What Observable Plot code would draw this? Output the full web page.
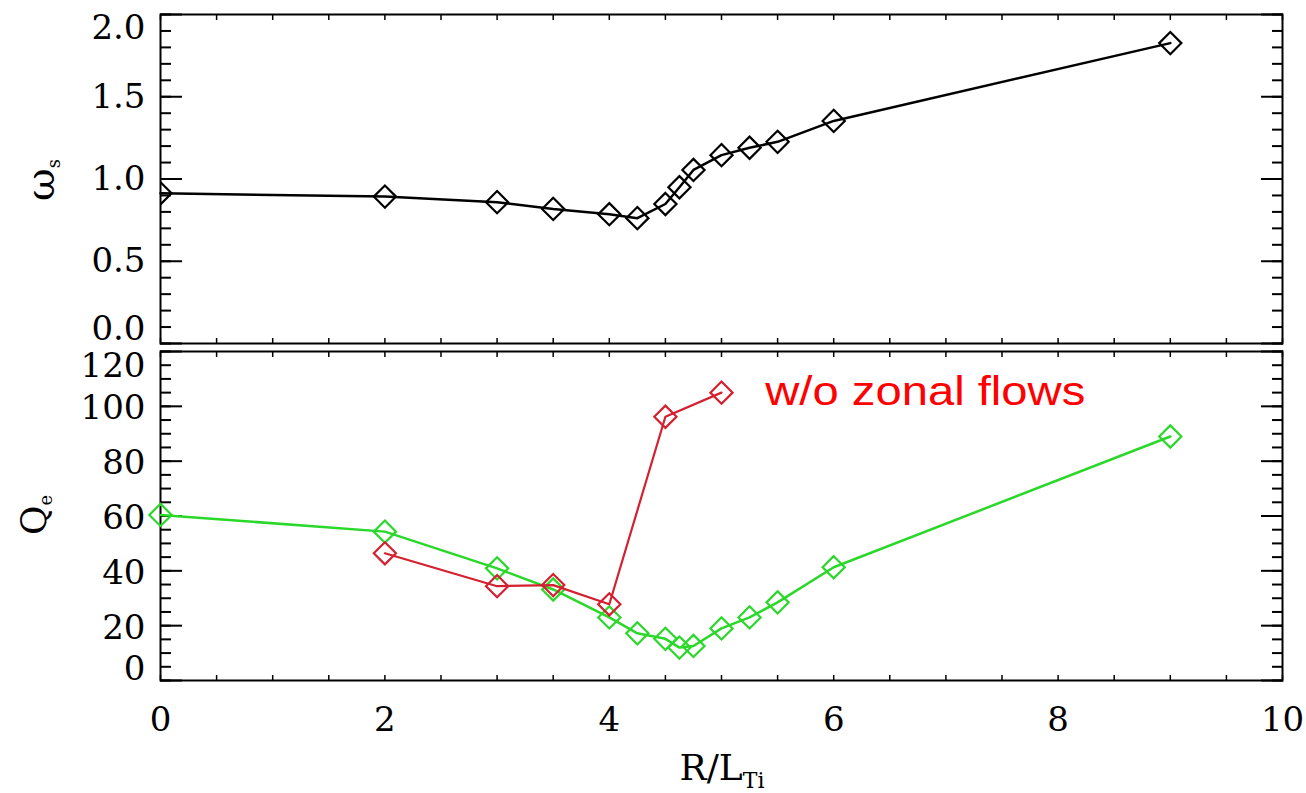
<!DOCTYPE html>
<html><head><meta charset="utf-8">
<script src="https://cdn.jsdelivr.net/npm/d3@7"></script>
<script src="https://cdn.jsdelivr.net/npm/@observablehq/plot@0.6"></script>
<style>
body{margin:0;background:#fff;}
#wrap{position:relative;width:1306px;height:793px;background:#fff;}
#wrap svg{position:absolute;left:0;overflow:visible;}
</style></head><body><div id="wrap"></div>
<script>
// ---- data ----
const rlti = [0, 2, 3, 3.5, 4, 4.25, 4.5, 4.625, 4.75, 5, 5.25, 5.5, 6, 9];
const omegaS = [0.913, 0.893, 0.859, 0.818, 0.786, 0.762, 0.848, 0.95, 1.055, 1.145, 1.19, 1.226, 1.353, 1.826];
const qeWithZF = [60.4, 54.3, 40.9, 33.2, 23, 17.2, 15.2, 12, 12.6, 19, 23, 28.5, 41.3, 89];
const rltiNoZF = [2, 3, 3.5, 4, 4.5, 5];
const qeNoZF = [46.4, 34.4, 34.8, 27.8, 96.2, 105];
const annotation = {text: "w/o zonal flows", x: 5.39, y: 100.5};

const xTicksMajor = [0, 2, 4, 6, 8, 10];
const xTicksMinor = d3.range(0, 10.001, 0.5);
const omegaTicksMajor = [0, 0.5, 1, 1.5, 2];
const omegaTicksMinor = d3.range(0, 2.0001, 0.1);
const qeTicksMajor = [0, 20, 40, 60, 80, 100, 120];
const qeTicksMinor = d3.range(0, 120.001, 5);

const omegaData = rlti.map((x, i) => ({x, y: omegaS[i]}));
const zfData = rlti.map((x, i) => ({x, y: qeWithZF[i]}));
const noZfData = rltiNoZF.map((x, i) => ({x, y: qeNoZF[i]}));

const W = 1306;
const SERIF = "DejaVu Serif";
const GREEN = "#2ad82a";
const RED = "#d42030";

function frameTicks(yMajor, yMinor) {
  const common = {label: null, fill: "none", stroke: "black", strokeWidth: 2};
  return [
    Plot.axisX({...common, anchor: "top", ticks: xTicksMinor, tickSize: -5, strokeWidth: 1.5}),
    Plot.axisX({...common, anchor: "bottom", ticks: xTicksMinor, tickSize: -5, strokeWidth: 1.5}),
    Plot.axisY({...common, anchor: "left", ticks: yMinor, tickSize: -11}),
    Plot.axisY({...common, anchor: "left", ticks: yMajor, tickSize: -22}),
    Plot.axisY({...common, anchor: "right", ticks: yMinor, tickSize: -11}),
    Plot.axisY({...common, anchor: "right", ticks: yMajor, tickSize: -22})
  ];
}
function yLabels(ticks, fmt, dy) {
  return Plot.axisY({anchor: "left", ticks, tickSize: 0, tickPadding: 15, tickFormat: fmt,
    label: null, fontSize: 34, fill: "black", dy});
}

const topPlot = Plot.plot({
  width: W, height: 350,
  marginLeft: 160, marginRight: 24, marginTop: 14, marginBottom: 7,
  style: {fontFamily: SERIF, fontSize: "34px", background: "transparent", overflow: "visible"},
  x: {domain: [0, 10]},
  y: {domain: [0, 2]},
  marks: [
    ...frameTicks(omegaTicksMajor, omegaTicksMinor),
    yLabels([0.5, 1, 1.5], d3.format(".1f"), 0),
    yLabels([2], d3.format(".1f"), 14),
    yLabels([0], d3.format(".1f"), -14),
    Plot.frame({stroke: "black", strokeWidth: 2}),
    Plot.line(omegaData, {x: "x", y: "y", stroke: "black", strokeWidth: 2.5}),
    Plot.dot(omegaData, {x: "x", y: "y", symbol: "diamond2", r: 10, stroke: "black", strokeWidth: 2.2, fill: "none", clip: true})
  ]
});

const botPlot = Plot.plot({
  width: W, height: 450,
  marginLeft: 160, marginRight: 24, marginTop: 8, marginBottom: 113,
  style: {fontFamily: SERIF, fontSize: "34px", background: "transparent", overflow: "visible"},
  x: {domain: [0, 10]},
  y: {domain: [0, 120]},
  marks: [
    ...frameTicks(qeTicksMajor, qeTicksMinor),
    yLabels([20, 40, 60, 80, 100], d3.format("d"), 2),
    yLabels([120], d3.format("d"), 15),
    yLabels([0], d3.format("d"), -11),
    Plot.axisX({anchor: "bottom", ticks: xTicksMajor, tickSize: 0, tickPadding: 26, label: null, fontSize: 34, fill: "black"}),
    Plot.frame({stroke: "black", strokeWidth: 2}),
    Plot.line(zfData, {x: "x", y: "y", stroke: GREEN, strokeWidth: 2.5}),
    Plot.dot(zfData, {x: "x", y: "y", symbol: "diamond2", r: 10, stroke: GREEN, strokeWidth: 2.2, fill: "none"}),
    Plot.line(noZfData, {x: "x", y: "y", stroke: RED, strokeWidth: 2.2}),
    Plot.dot(noZfData, {x: "x", y: "y", symbol: "diamond2", r: 10, stroke: RED, strokeWidth: 2.2, fill: "none"}),
    Plot.text([annotation], {x: "x", y: "y", text: "text", textAnchor: "start", lineAnchor: "bottom",
      fill: "#ff0000", fontSize: 40, fontFamily: "Liberation Sans", className: "annot"})
  ]
});

const wrap = document.getElementById("wrap");
topPlot.style.top = "0px";
botPlot.style.top = "343px";
wrap.appendChild(topPlot);
wrap.appendChild(botPlot);

// stretch annotation horizontally like the reference
d3.select(botPlot).selectAll(".annot text").attr("textLength", 320).attr("lengthAdjust", "spacingAndGlyphs");

// axis titles with subscripts
function title(svg, x, y, rot, main, sub, size, subSize) {
  const t = d3.select(svg).append("text")
    .attr("transform", `translate(${x},${y})` + (rot ? ` rotate(${rot})` : ""))
    .attr("text-anchor", "middle")
    .attr("font-family", SERIF).attr("font-size", size).attr("fill", "black");
  t.append("tspan").text(main);
  t.append("tspan").attr("font-size", subSize).attr("dy", subSize * 0.35).text(sub);
}
title(topPlot, 54, 180, -90, "ω", "s", 40, 18);
title(botPlot, 46, 172, -90, "Q", "e", 36, 18);
title(botPlot, 722, 437, 0, "R/L", "Ti", 36, 22);
</script></body></html>
